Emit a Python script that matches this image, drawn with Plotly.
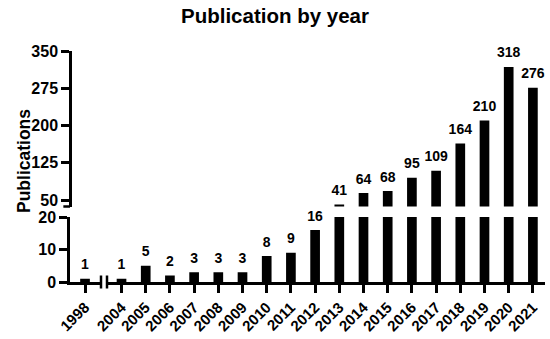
import plotly.graph_objects as go

years = ["1998", "2004", "2005", "2006", "2007", "2008", "2009", "2010", "2011",
         "2012", "2013", "2014", "2015", "2016", "2017", "2018", "2019", "2020", "2021"]
counts = [1, 1, 5, 2, 3, 3, 3, 8, 9, 16, 41, 64, 68, 95, 109, 164, 210, 318, 276]

low_ticks = [0, 10, 20]
high_ticks = [50, 125, 200, 275, 350]
low_max = 20
high_range = [37, 350]

FONT = "Liberation Sans, Arial, sans-serif"

# left x segment holds the 1998 bar, right segment the rest
left_years, left_counts = years[:1], counts[:1]
right_years, right_counts = years[1:], counts[1:]

fig = go.Figure()

bar_style = dict(marker=dict(color="black", line=dict(width=0)), width=0.4,
                 showlegend=False, hoverinfo="x+y")

fig.add_trace(go.Bar(x=left_years, y=left_counts, xaxis="x", yaxis="y", **bar_style))
fig.add_trace(go.Bar(x=right_years, y=right_counts, xaxis="x2", yaxis="y", **bar_style))
fig.add_trace(go.Bar(x=right_years, y=right_counts, xaxis="x2", yaxis="y2", **bar_style))

txt_font = dict(family=FONT, size=14, color="black", weight="bold")
# invisible marker just pushes the label a little above the bar top
lbl_style = dict(mode="markers+text", textposition="top center", textfont=txt_font,
                 marker=dict(size=8, opacity=0), cliponaxis=False, showlegend=False,
                 hoverinfo="skip")

# value labels
fig.add_trace(go.Scatter(x=left_years, y=left_counts, text=[str(v) for v in left_counts],
                         xaxis="x", yaxis="y", **lbl_style))
lo = [(y, v) for y, v in zip(right_years, right_counts) if v <= low_max]
hi = [(y, v) for y, v in zip(right_years, right_counts) if v > low_max]
fig.add_trace(go.Scatter(x=[a for a, _ in lo], y=[b for _, b in lo], text=[str(b) for _, b in lo],
                         xaxis="x2", yaxis="y", **lbl_style))
fig.add_trace(go.Scatter(x=[a for a, _ in hi], y=[b for _, b in hi], text=[str(b) for _, b in hi],
                         xaxis="x2", yaxis="y2", **lbl_style))

axis_common = dict(showline=True, linecolor="black", linewidth=2.5, ticks="outside",
                   ticklen=8, tickwidth=2.5, tickcolor="black", showgrid=False,
                   zeroline=False, automargin=False)
xtick_font = dict(family=FONT, size=15, color="black", weight="bold")
ytick_font = dict(family=FONT, size=16, color="black", weight="bold")

x_split = 31 / 475
x_gap = 37 / 475

fig.update_layout(
    width=550, height=339,
    margin=dict(l=70, r=5, t=51, b=57),
    paper_bgcolor="white", plot_bgcolor="white",
    title=dict(text="Publication by year", x=0.5, xanchor="center", y=0.975,
               yanchor="top", font=dict(family=FONT, size=20.5, color="black", weight="bold"),
               automargin=False),
    xaxis=dict(domain=[0, x_split], anchor="y", type="category",
               range=[-0.62, 0.66], tickangle=-45, tickfont=xtick_font, **axis_common),
    xaxis2=dict(domain=[x_gap, 1], anchor="y", type="category",
                range=[-0.6, 17.5], tickangle=-45, tickfont=xtick_font, **axis_common),
    yaxis=dict(domain=[0, 65 / 231], anchor="x", range=[0, low_max], tickvals=low_ticks,
               tickfont=ytick_font, **axis_common),
    yaxis2=dict(domain=[75.5 / 231, 1], anchor="free", position=0, range=high_range,
                tickvals=high_ticks, tickfont=ytick_font, **axis_common),
    bargap=0.6,
)

fig.add_annotation(text="Publications", xref="paper", yref="paper", x=-0.122, y=0.524,
                   textangle=-90, showarrow=False,
                   font=dict(family=FONT, size=17.5, color="black", weight="bold"))

# break marks
brk = dict(color="black", width=2.5)
fig.add_shape(type="line", xref="paper", yref="y2 domain", x0=-0.014, x1=0, y0=0, y1=0, line=brk)
fig.add_shape(type="line", xref="paper", yref="y domain", x0=x_split, x1=x_split,
              y0=-0.1, y1=0.1, line=brk)
fig.add_shape(type="line", xref="paper", yref="y domain", x0=x_gap, x1=x_gap,
              y0=-0.1, y1=0.1, line=brk)

# page body has a default 8px margin; drop it so the figure sits at the corner
fig.write_html("out.html", config={"displayModeBar": False},
               post_script="document.body.style.margin='0';")
